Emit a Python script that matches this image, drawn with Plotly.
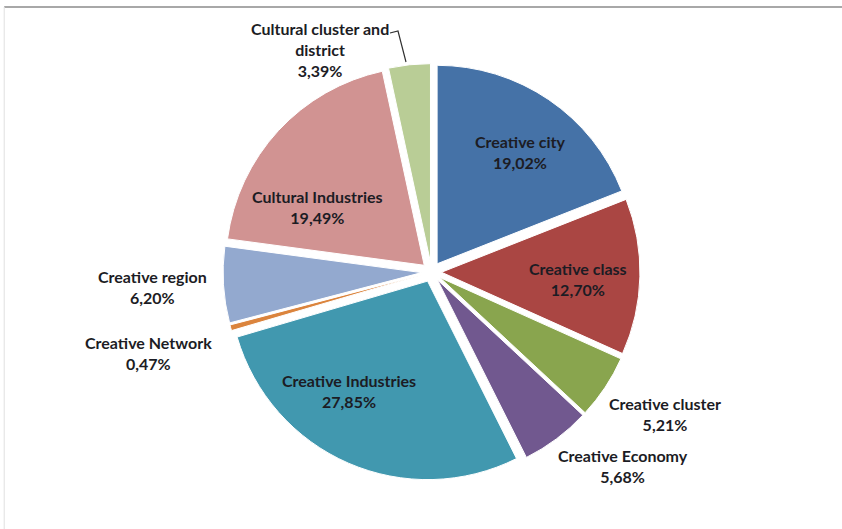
import plotly.graph_objects as go

labels = ["Creative city", "Creative class", "Creative cluster", "Creative Economy",
          "Creative Industries", "Creative Network", "Creative region",
          "Cultural Industries", "Cultural cluster and<br>district"]
values = [19.02, 12.70, 5.21, 5.68, 27.85, 0.47, 6.20, 19.49, 3.39]
colors = ["#4572A7", "#AA4643", "#89A54E", "#71588F", "#4198AF",
          "#DB843D", "#93A9CF", "#D19392", "#B9CD96"]

# data-label placement (pixel centres), one per slice
label_pos = [(520, 152), (578, 279), (665, 414), (623, 466), (349, 391),
             (148, 353), (152, 287), (317, 207), (320, 49)]

W, H = 842, 529
pct_text = [f"{v:.2f}%".replace(".", ",") for v in values]

font = dict(family="Lato", size=16, color="#1c1c24", weight="bold")

fig = go.Figure(go.Pie(
    labels=labels,
    values=values,
    textinfo="none",
    sort=False,
    direction="clockwise",
    rotation=0,
    pull=0.05,
    automargin=False,
    marker=dict(colors=colors, line=dict(color="white", width=1)),
    hoverinfo="skip",
    domain=dict(x=[0.2649, 0.7601], y=[0.0918, 0.8798]),
    showlegend=False,
))

annotations = []
for lab, pct, (px, py) in zip(labels, pct_text, label_pos):
    annotations.append(dict(
        x=px / W, y=1 - py / H, xref="paper", yref="paper",
        xanchor="center", yanchor="middle", align="center",
        text=f"{lab}<br>{pct}", showarrow=False, font=font,
    ))

def pt(px, py):
    return f"{px / W},{1 - py / H}"

fig.update_layout(
    width=W, height=H,
    margin=dict(l=0, r=0, t=0, b=0, autoexpand=False),
    paper_bgcolor="white",
    plot_bgcolor="white",
    annotations=annotations,
    shapes=[
        dict(type="line", xref="paper", yref="paper", x0=0.005, x1=1, y0=1 - 7/H, y1=1 - 7/H,
             line=dict(color="#a8a8a8", width=2)),
        dict(type="line", xref="paper", yref="paper", x0=0.005, x1=0.005, y0=0, y1=1 - 7/H,
             line=dict(color="#e0e0e0", width=1)),
        dict(type="path", xref="paper", yref="paper",
             path=f"M{pt(390, 33)} L{pt(398, 31)} L{pt(406, 62)}",
             line=dict(color="#303030", width=1.2)),
    ],
)

fig.write_html("out.html")
